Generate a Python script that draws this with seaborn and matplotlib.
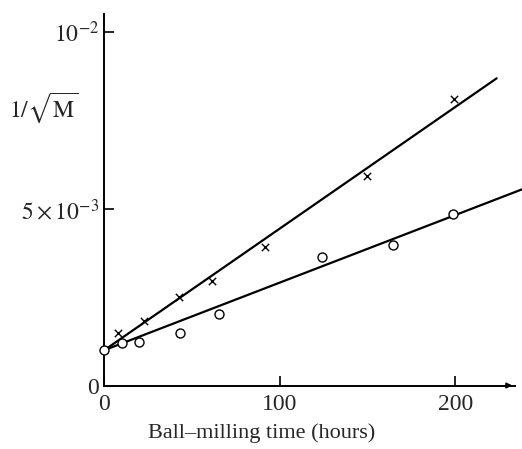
import numpy as np
import pandas as pd
import matplotlib
matplotlib.use("Agg")
import matplotlib.pyplot as plt
import seaborn as sns

# Measured points: ball-milling time (hours) vs 1/sqrt(M)
circle_hours = [0, 10.3, 20, 42.9, 65.1, 123.8, 164.2, 198.7]
circle_values = [0.00100, 0.00121, 0.00124, 0.00148, 0.00201, 0.00363, 0.00397, 0.00485]

cross_hours = [7.6, 22.6, 42.7, 61.1, 91.5, 149.9, 199.0]
cross_values = [0.00149, 0.00182, 0.00250, 0.00296, 0.00391, 0.00594, 0.00810]

# Straight-line fits drawn through each set
fit_cross_hours = [0, 223.5]
fit_cross_values = [0.00100, 0.00869]
fit_circle_hours = [0, 238]
fit_circle_values = [0.00100, 0.00555]

x_ticks = [0, 100, 200]
x_tick_labels = ["0", "100", "200"]
y_ticks = [0, 0.005, 0.01]
y_tick_labels = ["0", r"$5\times10^{-3}$", r"$10^{-2}$"]

sns.set_style("ticks")
plt.rcParams["font.family"] = ["Liberation Serif", "DejaVu Serif"]
plt.rcParams["mathtext.fontset"] = "stix"

fig = plt.figure(figsize=(5.22, 4.49), dpi=100)
ax = fig.add_axes([0.1998, 0.1414, 0.787, 0.8267])

fits = pd.DataFrame({
    "hours": fit_cross_hours + fit_circle_hours,
    "value": fit_cross_values + fit_circle_values,
    "series": ["cross"] * 2 + ["circle"] * 2,
})
sns.lineplot(data=fits, x="hours", y="value", units="series", estimator=None,
             color="black", lw=1.6, ax=ax, clip_on=False, zorder=2)

sns.scatterplot(x=cross_hours, y=cross_values, marker="x", s=28,
                color="black", linewidth=1.0, ax=ax, zorder=3, clip_on=False)
sns.scatterplot(x=circle_hours, y=circle_values, marker="o", s=42,
                facecolor="white", edgecolor="black", linewidth=1.0,
                ax=ax, zorder=3, clip_on=False)

ax.set_xlim(0, 234)
ax.set_ylim(0, 0.0105)
ax.set_xticks(x_ticks)
ax.set_xticklabels(x_tick_labels)
ax.set_yticks(y_ticks)
ax.set_yticklabels(y_tick_labels)
ax.tick_params(axis="both", direction="in", length=7, width=1.2,
               labelsize=17, pad=6, color="black")
ax.tick_params(axis="y", pad=4)

for side in ["top", "right"]:
    ax.spines[side].set_visible(False)
for side in ["left", "bottom"]:
    ax.spines[side].set_linewidth(1.4)
    ax.spines[side].set_color("black")

# small arrowhead at the end of the time axis
ax.annotate("", xy=(1.0, 0), xytext=(0.97, 0), xycoords="axes fraction",
            arrowprops=dict(arrowstyle="-|>", color="black", lw=1.2,
                            mutation_scale=8), annotation_clip=False)

ax.set_xlabel("Ball–milling time (hours)", fontsize=16)
ax.xaxis.set_label_coords(0.384, -0.128)
ax.xaxis.label.set_va("center")
ax.set_ylabel(r"$1/\sqrt{\mathrm{M}}$", fontsize=17, rotation=0)
ax.yaxis.set_label_coords(-0.147, 0.75)
ax.yaxis.label.set_va("center")
ax.yaxis.label.set_ha("center")

fig.savefig("out.png", dpi=100)
